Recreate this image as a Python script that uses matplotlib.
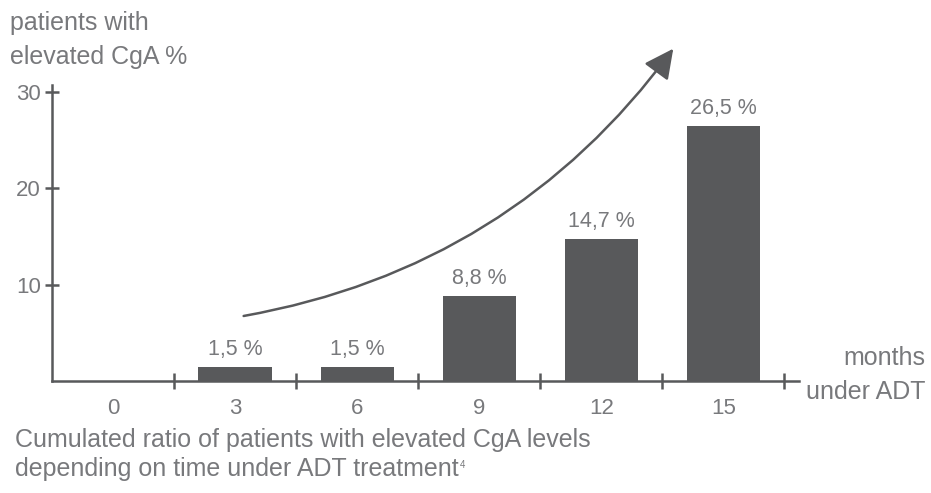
import matplotlib
matplotlib.use("Agg")
import matplotlib.pyplot as plt
import numpy as np

# months under ADT and share of patients with elevated CgA (%)
months = ["0", "3", "6", "9", "12", "15"]
ratio = [0.0, 1.5, 1.5, 8.8, 14.7, 26.5]
value_labels = ["", "1,5 %", "1,5 %", "8,8 %", "14,7 %", "26,5 %"]
y_ticks = [10, 20, 30]

dark = "#58595b"
txt = "#78797c"

plt.rcParams["font.family"] = ["Liberation Sans", "DejaVu Sans"]

fig = plt.figure(figsize=(9.31, 4.93), dpi=100)
ax = fig.add_axes([52 / 931, 1 - 381 / 493, (799 - 52) / 931, 296 / 493])

pos = np.arange(len(months))
ax.bar(pos, ratio, width=0.6, color=dark, zorder=2)
for p, v, lab in zip(pos, ratio, value_labels):
    if lab:
        ax.annotate(lab, (p, v), xytext=(0, 5), textcoords="offset points",
                    ha="center", va="bottom", fontsize=15.5, color=txt)

ax.set_xlim(-0.5, 5.62)
ax.set_ylim(0, 30.73)

# ticks sit on category boundaries, labels in the middle
ax.set_xticks(np.arange(0.5, 6, 1))
ax.set_xticklabels([])
ax.set_xticks(pos, minor=True)
ax.set_xticklabels(months, minor=True)
ax.tick_params(axis="x", which="major", direction="inout", length=11,
               width=1.8, color=dark)
ax.tick_params(axis="x", which="minor", length=0, pad=12, labelsize=16,
               labelcolor=txt)
ax.set_yticks(y_ticks)
ax.tick_params(axis="y", direction="inout", length=10, width=1.8, color=dark,
               labelsize=16, labelcolor=txt, pad=3)

for s in ["top", "right"]:
    ax.spines[s].set_visible(False)
for s in ["left", "bottom"]:
    ax.spines[s].set_color(dark)
    ax.spines[s].set_linewidth(1.8)

# rising trend arrow
ax.annotate("", xy=(4.59, 34.5), xytext=(1.07, 6.75),
            arrowprops=dict(arrowstyle="-|>,head_length=0.9,head_width=0.45",
                            connectionstyle="arc3,rad=0.2", color=dark,
                            lw=1.8, mutation_scale=20, shrinkA=0, shrinkB=0),
            annotation_clip=False)

fig.text(10 / 931, 1 - 23 / 493, "patients with", fontsize=18, color=txt,
         va="center", ha="left")
fig.text(10 / 931, 1 - 57 / 493, "elevated CgA %", fontsize=18, color=txt,
         va="center", ha="left")
fig.text(925 / 931, 1 - 358 / 493, "months", fontsize=18, color=txt,
         va="center", ha="right")
fig.text(925 / 931, 1 - 392 / 493, "under ADT", fontsize=18, color=txt,
         va="center", ha="right")
fig.text(15 / 931, 1 - 440 / 493,
         "Cumulated ratio of patients with elevated CgA levels",
         fontsize=18, color=txt, va="center", ha="left")
cap = fig.text(15 / 931, 1 - 469 / 493,
               "depending on time under ADT treatment",
               fontsize=18, color=txt, va="center", ha="left")

# small footnote marker after the caption
fig.canvas.draw()
bb = cap.get_window_extent()
fig.text((bb.x1 + 1) / 931, (bb.y1 - 3) / 493, "4", fontsize=7, color=txt,
         va="top", ha="left")

fig.savefig("out.png", dpi=100)
